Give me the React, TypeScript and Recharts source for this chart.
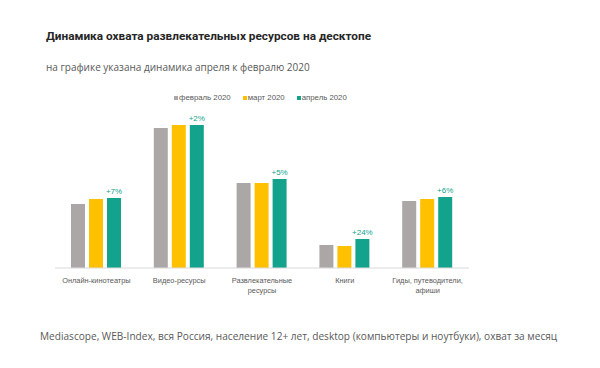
import { BarChart, Bar, XAxis, YAxis, LabelList } from "recharts";

const categories = [
  ["Онлайн-кинотеатры"],
  ["Видео-ресурсы"],
  ["Развлекательные", "ресурсы"],
  ["Книги"],
  ["Гиды, путеводители,", "афиши"],
];
const feb = [64, 140, 85, 23, 67];
const mar = [69, 143, 85, 22, 69];
const apr = [70, 143, 89, 29, 71];
const changes = ["+7%", "+2%", "+5%", "+24%", "+6%"];

const SERIES = [
  { key: "feb", name: "февраль 2020", color: "#aba7a7" },
  { key: "mar", name: "март 2020", color: "#ffc000" },
  { key: "apr", name: "апрель 2020", color: "#13a38d" },
];

const data = categories.map((c, i) => ({
  name: c.join(" "),
  lines: c,
  feb: feb[i],
  mar: mar[i],
  apr: apr[i],
  change: changes[i],
}));

const FONT = "'Liberation Sans', Arial, sans-serif";

function CategoryTick({ x, y, payload }: any) {
  const lines = data[payload.index]?.lines ?? [payload.value];
  return (
    <text x={x} y={y + 7} textAnchor="middle" fill="#595959" fontSize={7.4} fontFamily={FONT}>
      {lines.map((l: string, i: number) => (
        <tspan key={i} x={x} dy={i === 0 ? 0 : 10}>
          {l}
        </tspan>
      ))}
    </text>
  );
}

export default function App() {
  return (
    <div style={{ position: "fixed", top: 0, left: 0, width: 600, height: 368, background: "#fff", overflow: "hidden" }}>
      <div style={{ position: "absolute", left: 46, top: 29, fontFamily: "Roboto, sans-serif", fontWeight: 700, fontSize: 11.8, color: "#262626", whiteSpace: "nowrap" }}>
        Динамика охвата развлекательных ресурсов на десктопе
      </div>
      <div style={{ position: "absolute", left: 46, top: 60, fontFamily: "'Open Sans', sans-serif", fontSize: 10, color: "#595959", whiteSpace: "nowrap" }}>
        на графике указана динамика апреля к февралю 2020
      </div>
      <div style={{ position: "absolute", left: 40, top: 329, fontFamily: "'Open Sans', sans-serif", fontSize: 10.1, color: "#595959", whiteSpace: "nowrap" }}>
        Mediascope, WEB-Index, вся Россия, население 12+ лет, desktop (компьютеры и ноутбуки), охват за месяц
      </div>
      <div style={{ position: "absolute", left: 174, top: 93, display: "flex", gap: 12, fontFamily: FONT, fontSize: 7.8, color: "#595959" }}>
        {SERIES.map((s) => (
          <div key={s.key} style={{ display: "flex", alignItems: "center", gap: 1 }}>
            <div style={{ width: 4, height: 4, backgroundColor: s.color }} />
            <span>{s.name}</span>
          </div>
        ))}
      </div>
      <div style={{ position: "absolute", left: 0, top: 0 }}>
        <BarChart
          width={600}
          height={368}
          data={data}
          margin={{ top: 108, right: 131, bottom: 70, left: 55 }}
          barSize={14}
          barGap={4}
        >
          <XAxis
            dataKey="name"
            axisLine={{ stroke: "#d9d9d9" }}
            tickLine={false}
            tick={<CategoryTick />}
            interval={0}
            height={30}
          />
          <YAxis hide domain={[0, 160]} />
          {SERIES.map((s) => (
            <Bar key={s.key} dataKey={s.key} name={s.name} fill={s.color} isAnimationActive={false}>
              {s.key === "apr" && (
                <LabelList dataKey="change" position="top" fill="#13a38d" fontSize={8} fontFamily={FONT} offset={4} />
              )}
            </Bar>
          ))}
        </BarChart>
      </div>
    </div>
  );
}
